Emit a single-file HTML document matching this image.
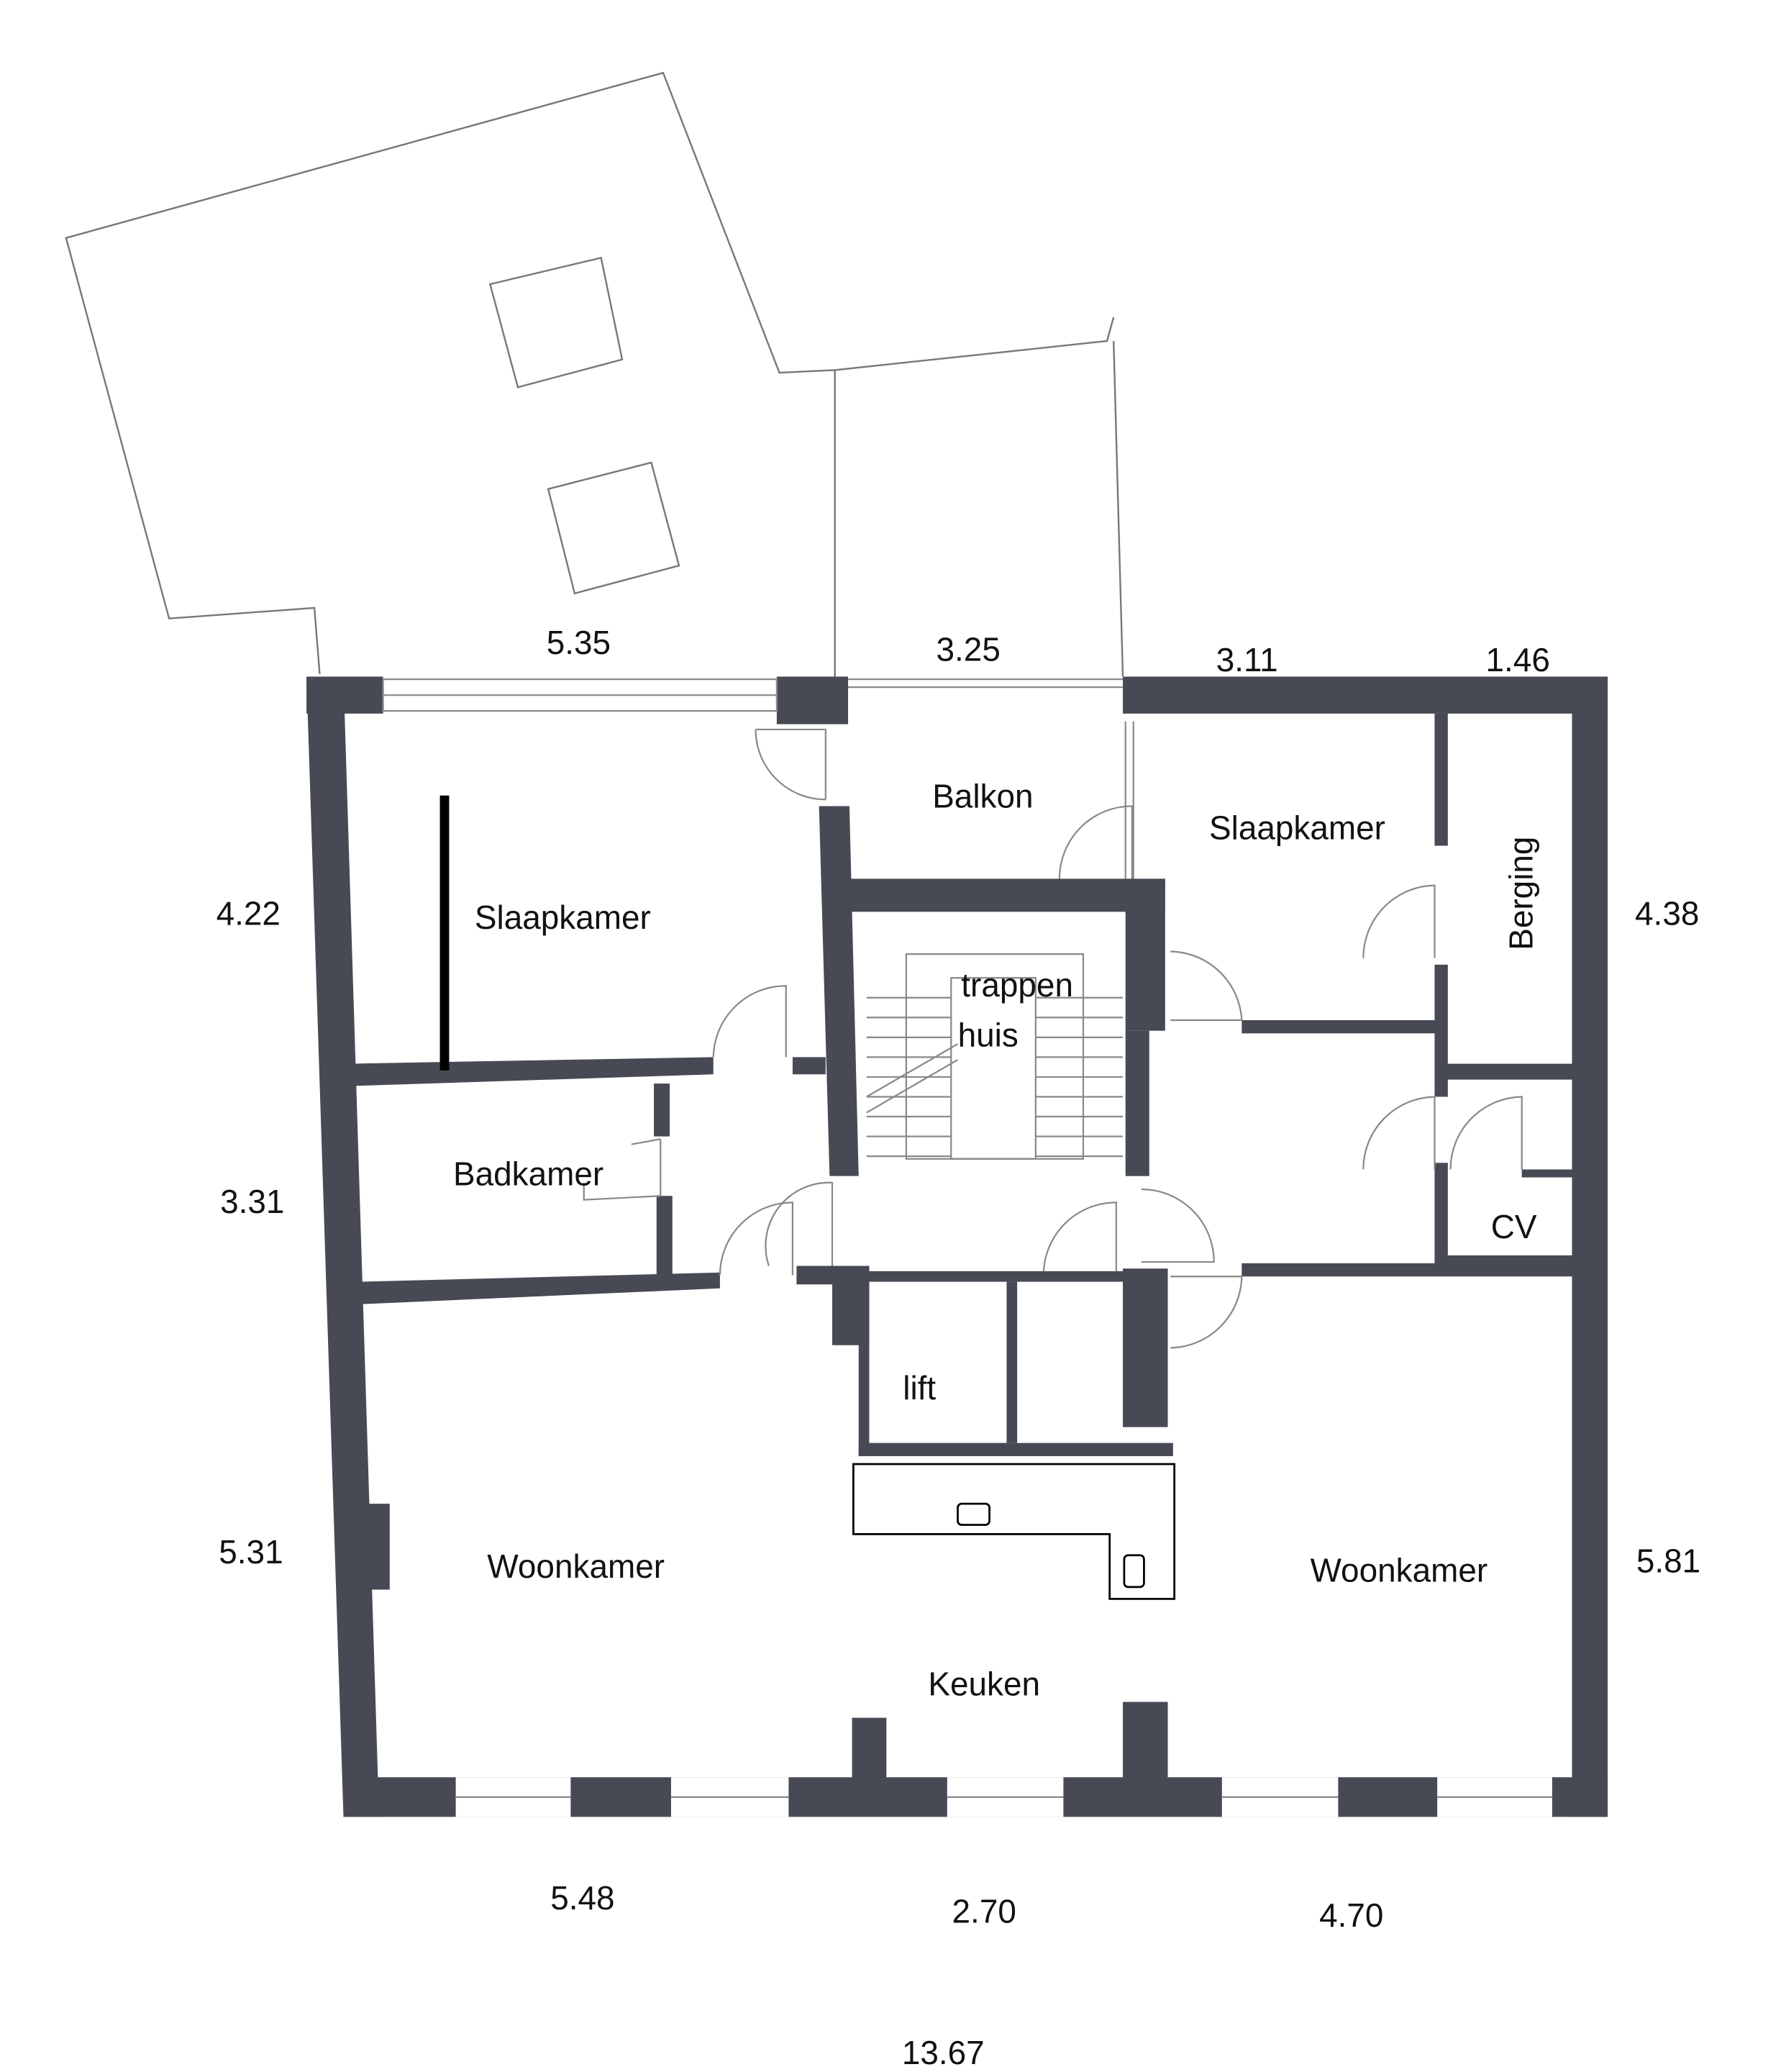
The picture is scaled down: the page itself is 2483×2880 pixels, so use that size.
<!DOCTYPE html>
<html><head><style>html,body{margin:0;padding:0;background:#fff}svg{display:block}</style></head>
<body>
<svg width="2483" height="2880" viewBox="0 0 1352 1568" xmlns="http://www.w3.org/2000/svg" font-family="Liberation Sans, sans-serif">
<rect width="1352" height="1568" fill="#fff"/>
<g fill="none" stroke="#777" stroke-width="1.3">
<polyline points="242,510 238,460 128,468 50,180 502,55 590,282 632,280 838,258 843,240"/>
<line x1="632" y1="280" x2="632" y2="512"/>
<line x1="843" y1="258" x2="850" y2="512"/>
<polygon points="371,215 455,195 471,272 392,293"/>
<polygon points="415,370 493,350 514,428 435,449"/>
</g>
<g fill="#474a54">
<rect x="232" y="512" width="58" height="28"/>
<rect x="588" y="512" width="54" height="36"/>
<rect x="850" y="512" width="367" height="28"/>
<polygon points="232,512 260,512 287,1375 260,1375"/>
<rect x="1190" y="512" width="27" height="863"/>
<rect x="260" y="1345" width="957" height="30"/>
<rect x="345" y="1345" width="87" height="30" fill="#fff"/>
<rect x="508" y="1345" width="89" height="30" fill="#fff"/>
<rect x="717" y="1345" width="88" height="30" fill="#fff"/>
<rect x="925" y="1345" width="88" height="30" fill="#fff"/>
<rect x="1088" y="1345" width="87" height="30" fill="#fff"/>
<rect x="645" y="1300" width="26" height="50"/>
<rect x="850" y="1288" width="34" height="60"/>
<rect x="278" y="1138" width="17" height="65"/>
<polygon points="262,805 540,800 540,813 262,822"/>
<polygon points="272,970 545,963 545,975 272,987"/>
<rect x="600" y="800" width="25" height="13"/>
<rect x="495" y="820" width="12" height="40"/>
<rect x="497" y="905" width="12" height="60"/>
<polygon points="620,610 643,610 650,890 628,890"/>
<rect x="642" y="665" width="240" height="25"/>
<rect x="852" y="665" width="30" height="115"/>
<rect x="852" y="780" width="18" height="110"/>
<rect x="603" y="958" width="55" height="14"/>
<rect x="630" y="958" width="28" height="60"/>
<rect x="650" y="962" width="8" height="140"/>
<rect x="650" y="1092" width="238" height="10"/>
<rect x="850" y="960" width="34" height="120"/>
<rect x="658" y="962" width="195" height="8"/>
<rect x="762" y="970" width="8" height="122"/>
<rect x="940" y="772" width="150" height="10"/>
<rect x="1086" y="540" width="10" height="100"/>
<rect x="1086" y="730" width="10" height="100"/>
<rect x="1086" y="880" width="10" height="80"/>
<rect x="1090" y="805" width="100" height="12"/>
<rect x="1152" y="885" width="38" height="6"/>
<rect x="1090" y="950" width="100" height="8"/>
<rect x="940" y="956" width="250" height="10"/>
<rect x="333" y="602" width="7" height="208" fill="#000"/>
</g>
<g fill="none" stroke="#888" stroke-width="1.2">
<line x1="852" y1="546" x2="852" y2="665"/><line x1="858" y1="546" x2="858" y2="665"/>
<rect x="290" y="514" width="298" height="24"/><line x1="290" y1="526" x2="588" y2="526"/>
<line x1="642" y1="514" x2="850" y2="514"/><line x1="642" y1="520" x2="850" y2="520"/>
<line x1="345" y1="1360" x2="432" y2="1360"/><line x1="508" y1="1360" x2="597" y2="1360"/>
<line x1="717" y1="1360" x2="805" y2="1360"/><line x1="925" y1="1360" x2="1013" y2="1360"/>
<line x1="1088" y1="1360" x2="1175" y2="1360"/>
<path d="M572,552 H625 V605 M572,552 A53,53 0 0 0 625,605"/>
<path d="M540,800 A55,55 0 0 1 595,746 V800"/>
<path d="M545,965 A55,55 0 0 1 600,910 V965"/>
<path d="M582,958 A48,48 0 0 1 630,895 V958"/>
<path d="M802,665 A55,55 0 0 1 857,610 V665"/>
<path d="M790,962 A55,55 0 0 1 845,910 V962"/>
<path d="M886,720 A55,55 0 0 1 940,772 H886"/>
<path d="M864,900 A55,55 0 0 1 919,955 H864"/>
<path d="M886,1020 A55,55 0 0 0 940,966 H886"/>
<path d="M1032,725 A55,55 0 0 1 1086,670 V725"/>
<path d="M1032,885 A55,55 0 0 1 1086,830 V885"/>
<path d="M1098,885 A55,55 0 0 1 1152,830 V885"/>
<path d="M500,862 V905 M500,862 L478,866 M500,905 L442,908 V895"/>
<rect x="686" y="722" width="134" height="155"/>
<rect x="720" y="740" width="64" height="137"/>
<path d="M656,755 H720 M656,770 H720 M656,785 H720 M656,800 H720 M656,815 H720 M656,830 H720 M656,845 H720 M656,860 H720 M656,875 H720 M784,755 H850 M784,770 H850 M784,785 H850 M784,800 H850 M784,815 H850 M784,830 H850 M784,845 H850 M784,860 H850 M784,875 H850"/>
<path d="M656,830 L725,790 M656,842 L725,802"/>
</g>
<g fill="none" stroke="#000" stroke-width="1.5">
<path d="M646,1108 H889 V1210 H840 V1161 H646 Z"/>
<rect x="725" y="1138" width="24" height="16" rx="3"/>
<rect x="851" y="1177" width="15" height="24" rx="3"/>
</g>
<g font-size="25" fill="#111" text-anchor="middle">
<text x="438" y="495">5.35</text><text x="733" y="500">3.25</text><text x="944" y="508">3.11</text><text x="1149" y="508">1.46</text>
<text x="188" y="700">4.22</text><text x="191" y="918">3.31</text><text x="190" y="1183">5.31</text>
<text x="1262" y="700">4.38</text><text x="1263" y="1190">5.81</text>
<text x="441" y="1445">5.48</text><text x="745" y="1455">2.70</text><text x="1023" y="1458">4.70</text><text x="714" y="1562">13.67</text>
<text x="426" y="703">Slaapkamer</text><text x="744" y="611">Balkon</text><text x="982" y="635">Slaapkamer</text>
<text x="400" y="897">Badkamer</text><text x="1146" y="937">CV</text><text x="696" y="1059">lift</text>
<text x="436" y="1194">Woonkamer</text><text x="1059" y="1197">Woonkamer</text><text x="745" y="1283">Keuken</text>
<text x="770" y="754">trappen</text><text x="748" y="792">huis</text>
<text transform="translate(1160,676) rotate(-90)">Berging</text>
</g>
</svg>
</body></html>
